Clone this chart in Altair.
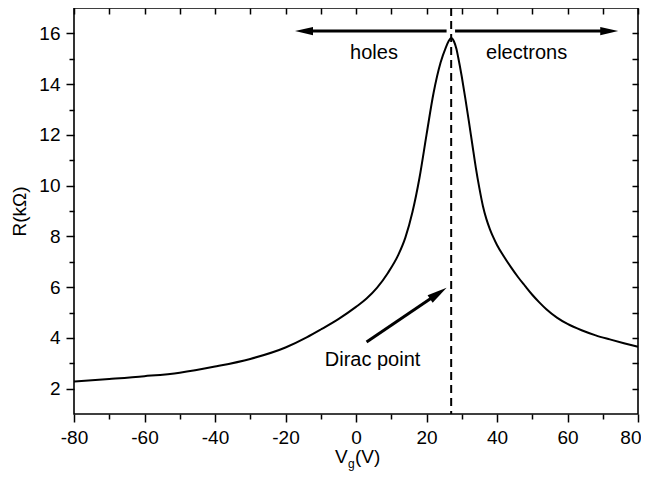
import altair as alt
import pandas as pd

# ---- data ----
vg = [-80, -70, -60, -50, -40, -30, -20, -14, -10, -5, 0, 3, 6, 9, 12, 14, 16, 18, 20, 22, 24,
      25.5, 26.3, 27, 27.8, 28.5, 29, 30, 31, 32, 33, 34, 35, 36, 37, 38, 39, 40, 42, 44, 46,
      48, 50, 52, 54, 57, 60, 64, 68, 72, 76, 80]
r_kohm = [2.28, 2.38, 2.49, 2.63, 2.87, 3.17, 3.62, 4.02, 4.33, 4.74, 5.22, 5.55, 5.98, 6.55,
          7.27, 7.95, 8.95, 10.3, 12.0, 13.65, 14.85, 15.45, 15.7, 15.82, 15.68, 15.38, 15.05,
          14.3, 13.45, 12.55, 11.62, 10.7, 9.9, 9.2, 8.68, 8.28, 7.95, 7.66, 7.2, 6.78, 6.39,
          6.04, 5.70, 5.40, 5.13, 4.80, 4.55, 4.3, 4.1, 3.94, 3.79, 3.65]

x_ticks = list(range(-80, 81, 10))
y_ticks = list(range(2, 17))
dirac_vg = [27]

note_text = ["holes", "electrons", "Dirac point"]
note_vg = [5.1, 48.4, 4.7]
note_r = [15.0, 15.0, 2.9]

arrow_vg_start = [25.7, 28.1, 3.0]
arrow_r_start = [16.09, 16.09, 3.84]
arrow_vg_shaft_end = [-14.5, 71.5, 23.4]
arrow_r_shaft_end = [16.09, 16.09, 5.76]
arrow_vg_tip = [-17.3, 74.4, 25.7]
arrow_r_tip = [16.09, 16.09, 5.98]
arrow_angle = [180, 0, 325.5]
arrow_head = [324, 324, 400]

W, H = 564, 406
FONT = "Liberation Sans"

curve_df = pd.DataFrame({"vg": vg, "r": r_kohm})
dirac_df = pd.DataFrame({"vg": dirac_vg})
note_df = pd.DataFrame({"t": note_text, "vg": note_vg, "r": note_r})
arrow_df = pd.DataFrame({
    "x1": arrow_vg_start, "y1": arrow_r_start,
    "x2": arrow_vg_shaft_end, "y2": arrow_r_shaft_end,
    "xt": arrow_vg_tip, "yt": arrow_r_tip,
    "ang": arrow_angle, "sz": arrow_head,
})

xs = alt.Scale(domain=[-80, 80], nice=False, zero=False)
ys = alt.Scale(domain=[1, 17], nice=False, zero=False)

tick_cond_x = {"condition": {"test": "datum.value % 20 == 0", "value": 8}, "value": 5}
tick_cond_y = {"condition": {"test": "datum.value % 2 == 0", "value": 8}, "value": 5}

bottom_axis = alt.Axis(
    values=x_ticks, labelExpr="datum.value % 20 == 0 ? '' + datum.value : ''",
    tickSize=tick_cond_x, tickWidth=1.5, tickColor="black", domain=False, grid=False,
    labelFont=FONT, labelFontSize=19, labelColor="black", labelPadding=6,
    labelAlign={"condition": {"test": "datum.value == 80", "value": "right"}, "value": "center"},
    labelOffset={"condition": {"test": "datum.value == 80", "value": 3}, "value": 0},
    labelFlush=False, labelOverlap=False, title=None,
)
left_axis = alt.Axis(
    values=y_ticks, labelExpr="datum.value % 2 == 0 ? '' + datum.value : ''",
    tickSize=tick_cond_y, tickWidth=1.5, tickColor="black", domain=False, grid=False,
    labelFont=FONT, labelFontSize=19, labelColor="black", labelPadding=6,
    labelFlush=False, labelOverlap=False,
    title="R(kΩ)", titleFont=FONT, titleFontSize=19, titleFontWeight="normal",
    titleColor="black", titleAngle=270, titleX=-55, titleY=H / 2,
    titleAlign="center", titleBaseline="middle",
)
top_axis = alt.Axis(orient="top", values=x_ticks, labels=False, domain=False, grid=False,
                    tickSize=6, tickWidth=1.5, tickColor="black", offset=-6, title=None)
right_axis = alt.Axis(orient="right", values=y_ticks, labels=False, domain=False, grid=False,
                      tickSize=6, tickWidth=1.5, tickColor="black", offset=-6, title=None)

curve = alt.Chart(curve_df).mark_line(color="black", strokeWidth=2, interpolate="monotone").encode(
    x=alt.X("vg:Q", scale=xs, axis=bottom_axis),
    y=alt.Y("r:Q", scale=ys, axis=left_axis),
)
mirror = alt.Chart(curve_df).mark_point(opacity=0).encode(
    x=alt.X("vg:Q", scale=xs, axis=top_axis),
    y=alt.Y("r:Q", scale=ys, axis=right_axis),
)
dirac = alt.Chart(dirac_df).mark_rule(color="black", strokeWidth=2, strokeDash=[8, 5]).encode(
    x=alt.X("vg:Q", scale=xs, axis=None),
)
notes = alt.Chart(note_df).mark_text(font=FONT, fontSize=20, color="black", align="center",
                                     baseline="alphabetic").encode(
    x=alt.X("vg:Q", scale=xs, axis=None),
    y=alt.Y("r:Q", scale=ys, axis=None),
    text="t:N",
)
shafts = alt.Chart(arrow_df).mark_rule(color="black", strokeWidth=3).encode(
    x=alt.X("x1:Q", scale=xs, axis=None), y=alt.Y("y1:Q", scale=ys, axis=None),
    x2="x2:Q", y2="y2:Q",
)
heads = alt.Chart(arrow_df).mark_point(
    shape="M 0 0 L -2 -0.45 L -2 0.45 Z", filled=True, color="black", opacity=1, strokeWidth=0
).encode(
    x=alt.X("xt:Q", scale=xs, axis=None), y=alt.Y("yt:Q", scale=ys, axis=None),
    angle=alt.Angle("ang:Q", scale=None), size=alt.Size("sz:Q", scale=None, legend=None),
)

title_v = alt.Chart(note_df.head(1)).mark_text(font=FONT, fontSize=19, color="black",
                                               align="left", baseline="alphabetic", text="V").encode(
    x=alt.value(261), y=alt.value(455))
title_g = alt.Chart(note_df.head(1)).mark_text(font=FONT, fontSize=12, color="black",
                                               align="left", baseline="alphabetic", text="g").encode(
    x=alt.value(274), y=alt.value(460))
title_u = alt.Chart(note_df.head(1)).mark_text(font=FONT, fontSize=19, color="black",
                                               align="left", baseline="alphabetic", text="(V)").encode(
    x=alt.value(281), y=alt.value(455))

chart = alt.layer(curve, mirror, dirac, shafts, heads, notes, title_v, title_g, title_u).resolve_axis(
    x="independent", y="independent"
).properties(
    width=W, height=H,
    autosize=alt.AutoSizeParams(type="none"),
    padding={"left": 66, "top": 0, "right": 3, "bottom": 57},
    background="white",
).configure_view(stroke="black", strokeWidth=1.6)

chart.save("out.html", embed_options={"renderer": "svg", "actions": False})
